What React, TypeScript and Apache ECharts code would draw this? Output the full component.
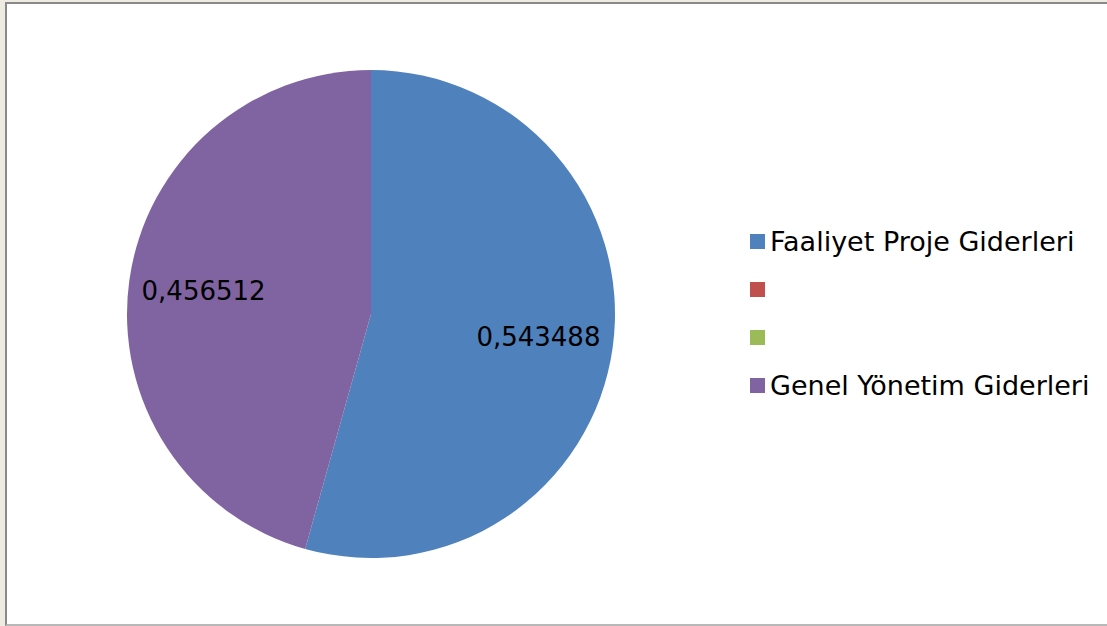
import React, { useEffect, useRef } from "react";
import * as echarts from "echarts";

const categories = ["Faaliyet Proje Giderleri", " ", "  ", "Genel Yönetim Giderleri"];
const values = [0.543488, 0, 0, 0.456512];
const colors = ["#4F81BD", "#C0504D", "#9BBB59", "#8064A2"];

const FONT = "DejaVu Sans, Verdana, sans-serif";

export default function App() {
  const ref = useRef<HTMLDivElement>(null);

  useEffect(() => {
    document.body.style.margin = "0";
    if (!ref.current) return;
    const chart = echarts.init(ref.current, null, { renderer: "svg" });
    const baseData = categories.map((name, i) => ({
      name,
      value: values[i],
      itemStyle: { color: colors[i] },
    }));
    const labelData = categories.map((name, i) => ({
      name,
      value: values[i],
      label: { show: values[i] > 0 },
    }));
    chart.setOption({
      animation: false,
      legend: {
        orient: "vertical",
        left: 750,
        top: 228,
        padding: 0,
        itemWidth: 15,
        itemHeight: 15,
        itemGap: 21,
        icon: "rect",
        selectedMode: false,
        data: categories.map((name, i) => ({ name, itemStyle: { color: colors[i] } })),
        textStyle: { fontFamily: FONT, fontSize: 27, color: "#000", lineHeight: 27 },
      },
      series: [
        {
          type: "pie",
          center: [371, 314],
          radius: [0, 244],
          startAngle: 90,
          clockwise: true,
          silent: true,
          label: { show: false },
          labelLine: { show: false },
          itemStyle: { borderWidth: 0 },
          emphasis: { disabled: true },
          data: baseData,
        },
        {
          type: "pie",
          center: [371, 314],
          radius: [88, 244],
          startAngle: 90,
          clockwise: true,
          silent: true,
          itemStyle: { color: "transparent", borderWidth: 0 },
          emphasis: { disabled: true },
          labelLine: { show: false },
          label: {
            position: "inside",
            color: "#000",
            fontFamily: FONT,
            fontSize: 26,
            formatter: (p: any) => String(p.value).replace(".", ","),
          },
          data: labelData,
        },
      ],
    });
    return () => chart.dispose();
  }, []);

  return (
    <div style={{ position: "fixed", left: 0, top: 0, width: 1107, height: 626, background: "#EEECE2", overflow: "hidden" }}>
      <div
        style={{
          position: "absolute",
          left: 5,
          top: 2,
          width: 1200,
          height: 620,
          background: "#fff",
          borderLeft: "2px solid #8A8A8A",
          borderTop: "2px solid #8A8A8A",
          borderBottom: "2px solid #B8B8B8",
        }}
      />
      <div ref={ref} style={{ position: "absolute", left: 0, top: 0, width: 1107, height: 626 }} />
    </div>
  );
}
